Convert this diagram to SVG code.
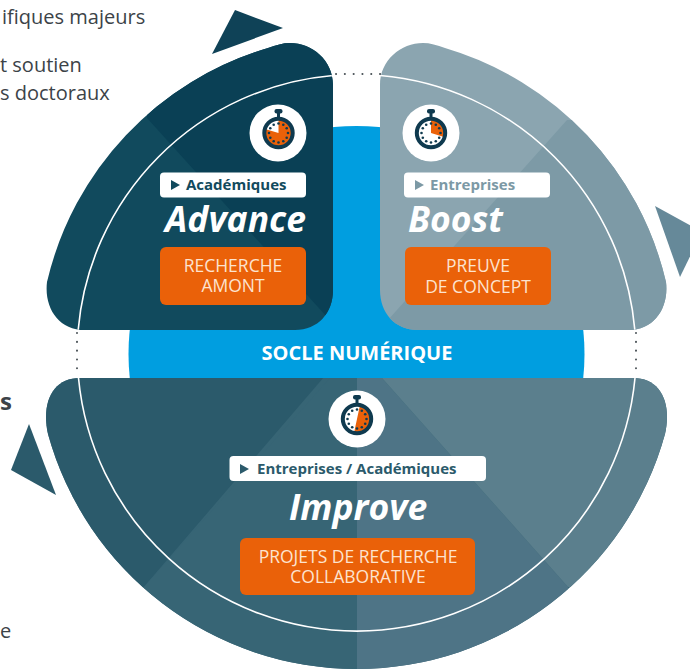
<svg xmlns="http://www.w3.org/2000/svg" width="690" height="671" viewBox="0 0 690 671">
<style>
.note{font-family:"Open Sans","Noto Sans",sans-serif;font-size:20px;fill:#3c4348}
.lab{font-family:"Open Sans","Noto Sans",sans-serif;font-size:15px;font-weight:700}
.name{font-family:"Open Sans","Noto Sans",sans-serif;font-size:35.500px;font-weight:700;font-style:italic;fill:#fff}
.act{font-family:"Open Sans","Noto Sans",sans-serif;font-size:17.500px;fill:#fde3cf;text-anchor:middle}
.orange{fill:#ea6109}
.white{fill:#fff}
.ring{fill:none;stroke:#fff;stroke-width:1.600}
.dots{fill:none;stroke:#4a5257;stroke-width:2;stroke-linecap:round;stroke-dasharray:0.100 8.700}
</style>
<defs>
<path id="sA" d="M333 290V85C333 60 312 43 290 43C283 43 276 45 268 48A320 320 0 0 0 47 282C44 307 58 330 85 330H295C318 330 333 313 333 290Z"/>
<path id="sB" d="M380 290V85C380 60 401 43 423 43C430 43 437 45 445 48A320 320 0 0 1 666 282C669 307 655 330 628 330H418C395 330 380 313 380 290Z"/>
<path id="sC" d="M80 378H633C660 378 672 402 665 434A320 320 0 0 1 48 434C41 402 53 378 80 378Z"/>
<clipPath id="cA"><use href="#sA"/></clipPath>
<clipPath id="cB"><use href="#sB"/></clipPath>
<clipPath id="cC"><use href="#sC"/></clipPath>
<clipPath id="cBlue"><rect x="100" y="100" width="510" height="278"/></clipPath>
<g id="watch">
<rect x="-4" y="-24" width="8" height="4.500" rx="2" fill="#0f3a4f"/>
<rect x="-1.500" y="-21" width="3" height="5" fill="#0f3a4f"/>
<circle r="14.200" fill="none" stroke="#0f3a4f" stroke-width="4"/>
</g>
<g id="ticks" fill="#0f3a4f">
<circle cx="0" cy="-9.500" r="1.300"/><circle cx="4.800" cy="-8.200" r="1.300"/><circle cx="8.200" cy="-4.800" r="1.300"/><circle cx="9.500" cy="0" r="1.300"/><circle cx="8.200" cy="4.800" r="1.300"/><circle cx="4.800" cy="8.200" r="1.300"/><circle cx="0" cy="9.500" r="1.300"/><circle cx="-4.800" cy="8.200" r="1.300"/><circle cx="-8.200" cy="4.800" r="1.300"/><circle cx="-9.500" cy="0" r="1.300"/><circle cx="-8.200" cy="-4.800" r="1.300"/><circle cx="-4.800" cy="-8.200" r="1.300"/>
</g>
</defs>

<g id="notes">
<text class="note" x="2" y="24">ifiques majeurs</text>
<text class="note" x="0" y="72">t soutien</text>
<text class="note" x="0" y="100">s doctoraux</text>
<text class="note" x="0" y="410" style="font-weight:700;font-size:24px">s</text>
<text class="note" x="0" y="638">e</text>
</g>

<g id="socle">
<circle cx="356.500" cy="354" r="228" fill="#009ee0" clip-path="url(#cBlue)"/>
<text x="357" y="360" text-anchor="middle" style="font-family:'Open Sans','Noto Sans',sans-serif;font-size:20px;font-weight:700;fill:#fff">SOCLE NUMÉRIQUE</text>
</g>

<g id="connectors">
<path class="dots" d="M336 74H381"/>
<path class="dots" d="M77 333V376"/>
<path class="dots" d="M636 333V376"/>
<polygon points="235,10 283,28 212,54" fill="#0f4257"/>
<polygon points="655,206 702,232 680,277" fill="#668999"/>
<polygon points="29,424 11,470 56,495" fill="#2b5a6b"/>
</g>

<g id="advance">
<use href="#sA" fill="#114a5d"/>
<g clip-path="url(#cA)"><polygon points="147,118 327,317 340,317 340,30 147,30" fill="#0a4055"/></g>
<path class="ring" clip-path="url(#cA)" d="M78 332A279.500 279.500 0 0 1 333 75.500"/>
<circle cx="278" cy="133" r="28.500" class="white"/>
<circle cx="278.500" cy="133" r="14" class="orange"/>
<path d="M278.500 133V119A14 14 0 0 0 265 129Z" fill="#fff"/>
<use href="#ticks" x="278.500" y="133"/>
<use href="#watch" x="278.500" y="133"/>
<rect x="160" y="172.500" width="146" height="25" rx="4" class="white"/>
<polygon points="171,180 171,190 180,185" fill="#114a5d"/>
<text class="lab" x="186" y="190" fill="#114a5d">Académiques</text>
<text class="name" x="165" y="232">Advance</text>
<rect x="160" y="247" width="146" height="58" rx="6" class="orange"/>
<text class="act"><tspan x="233" y="272">RECHERCHE</tspan><tspan x="233" y="292">AMONT</tspan></text>
</g>

<g id="boost">
<use href="#sB" fill="#8ba5b0"/>
<g clip-path="url(#cB)"><polygon points="567,120 388,320 380,340 680,340 680,120" fill="#7d9aa6"/></g>
<path class="ring" clip-path="url(#cB)" d="M380 75.500A279.500 279.500 0 0 1 635 332"/>
<circle cx="431" cy="133" r="28.500" class="white"/>
<circle cx="431" cy="133" r="14" fill="#fff"/>
<path d="M431 133V119A14 14 0 0 1 444 137Z" class="orange"/>
<use href="#ticks" x="431" y="133"/>
<use href="#watch" x="431" y="133"/>
<rect x="404" y="172.500" width="146" height="25" rx="4" class="white"/>
<polygon points="415,180 415,190 424,185" fill="#7c99a5"/>
<text class="lab" x="430" y="190" fill="#7c99a5">Entreprises</text>
<text class="name" x="408" y="232">Boost</text>
<rect x="405" y="247" width="146" height="58" rx="6" class="orange"/>
<text class="act"><tspan x="478" y="272">PREUVE</tspan><tspan x="478" y="293">DE CONCEPT</tspan></text>
</g>

<g id="improve">
<use href="#sC" fill="#376575"/>
<g clip-path="url(#cC)">
<polygon points="30,370 330,370 143,588 30,588" fill="#2b5a6b"/>
<polygon points="143,588 330,378 357,378 357,680 143,680" fill="#376575"/>
<polygon points="357,378 382,378 568,587 568,680 357,680" fill="#4e7486"/>
<polygon points="382,378 680,370 680,587 568,587" fill="#5b7f8d"/>
</g>
<path class="ring" d="M78.500 378A279.500 279.500 0 0 0 635 378"/>
<circle cx="357" cy="419" r="28.500" class="white"/>
<circle cx="357" cy="419" r="14" fill="#fff"/>
<path d="M357 419L360 405A14 14 0 0 1 354 433Z" class="orange"/>
<use href="#ticks" x="357" y="419"/>
<use href="#watch" x="357" y="419"/>
<rect x="229.500" y="456" width="256.500" height="25" rx="4" class="white"/>
<polygon points="240,464 240,474 249,469" fill="#2b5a6b"/>
<text class="lab" x="257" y="474" fill="#2b5a6b">Entreprises / Académiques</text>
<text class="name" x="289" y="520">Improve</text>
<rect x="240" y="538" width="235" height="57" rx="6" class="orange"/>
<text class="act"><tspan x="358" y="563">PROJETS DE RECHERCHE</tspan><tspan x="358" y="583">COLLABORATIVE</tspan></text>
</g>
</svg>
